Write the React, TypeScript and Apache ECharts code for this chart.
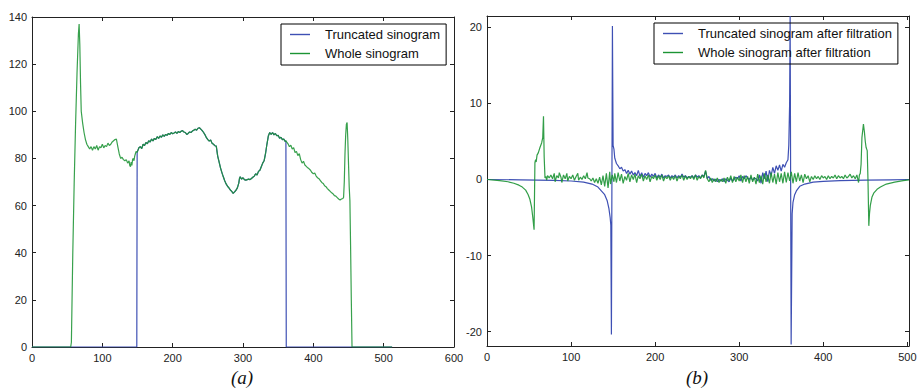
import React, { useEffect, useRef } from "react";
import * as echarts from "echarts";

// ---------- tick labels ----------
const leftXTicks = [0, 100, 200, 300, 400, 500, 600];
const leftYTicks = [0, 20, 40, 60, 80, 100, 120, 140];
const rightXTicks = [0, 100, 200, 300, 400, 500];
const rightYTicks = [-20, -10, 0, 10, 20];

// ---------- panel (a): sinograms ----------
const wholeLeftEdge: number[][] = [
  [0, 0], [55, 0], [56, 2], [58, 40], [60, 70], [62, 95], [64, 116], [66, 133], [67, 137], [68, 128],
  [69, 112], [70, 100], [72, 95], [74, 91], [76, 88], [78, 86], [80, 85], [82, 84], [84, 85], [86, 83.5],
  [88, 85], [90, 84], [92, 85.5], [94, 83.5], [96, 85], [98, 84.5], [100, 86], [102, 84.5], [104, 85.5],
  [106, 85], [108, 86.5], [110, 85.5], [112, 86], [114, 87], [116, 87.5], [118, 88], [120, 88.2], [122, 85],
  [124, 82], [126, 80], [128, 80.5], [130, 79.5], [132, 79], [134, 79.5], [136, 78], [138, 79], [139, 77],
  [140, 76.5], [141, 78.5], [142, 77], [143, 79.5], [144, 80], [145, 79], [146, 81], [147, 82], [148, 83],
  [149, 82.5],
];

const sharedCore: number[][] = [
  [150, 83], [152, 84.5], [154, 85], [156, 84.2], [158, 86], [160, 85.5], [162, 86.8], [164, 86.2],
  [166, 87.5], [168, 87], [170, 88.2], [172, 87.4], [174, 88.5], [176, 88], [178, 89.2], [180, 88.5],
  [182, 89.5], [184, 89], [186, 90], [188, 89.4], [190, 90.2], [192, 89.8], [194, 90.6], [196, 90.2],
  [198, 91], [200, 90.5], [202, 90.8], [204, 91.2], [206, 90.6], [208, 91.4], [210, 91], [212, 91.5],
  [214, 91.8], [216, 91.2], [218, 91], [220, 90.2], [222, 90.6], [224, 91.2], [226, 91], [228, 91.6],
  [230, 92], [232, 92.4], [234, 92], [236, 92.8], [238, 93], [240, 92.4], [242, 91.8], [244, 91],
  [246, 90], [248, 88.8], [250, 88], [252, 87.4], [254, 87.8], [256, 86.4], [258, 86], [260, 85.4],
  [262, 85.2], [264, 81], [266, 78.5], [268, 76], [270, 74], [272, 72.2], [274, 70.5], [276, 69.2],
  [278, 68.2], [280, 67.5], [282, 66.6], [284, 66], [286, 65.2], [288, 65.8], [290, 66.5], [292, 67.5],
  [294, 69.5], [295, 71.5], [296, 72.2], [298, 71.2], [300, 71.8], [302, 71], [304, 70.8], [306, 71],
  [308, 71.2], [310, 71], [312, 71.5], [314, 72], [316, 72.5], [318, 73.5], [320, 73], [322, 74.5],
  [324, 75], [326, 76.5], [328, 78], [330, 79], [332, 82], [334, 86], [336, 89.5], [338, 91], [340, 90.2],
  [342, 91], [344, 90], [346, 90.6], [348, 89.6], [350, 89.8], [352, 88.6], [354, 89], [356, 88],
  [358, 88.2], [360, 87.2], [361, 87.5],
];

const wholeRightEdge: number[][] = [
  [362, 87], [364, 86.2], [366, 85], [368, 85.6], [370, 84], [372, 84.6], [374, 82.5], [376, 83],
  [378, 81.2], [380, 82], [382, 79.5], [384, 78], [386, 78.8], [388, 77.2], [390, 76.6], [392, 76],
  [394, 75.6], [396, 75], [398, 74], [400, 73.5], [402, 73.8], [404, 72.5], [406, 71.8], [408, 71.4],
  [410, 70.6], [412, 69.8], [414, 69.4], [416, 68.4], [418, 68], [420, 67.2], [422, 66.6], [424, 66],
  [426, 65.4], [428, 65], [430, 64.2], [432, 64], [434, 63.4], [436, 62.8], [438, 62.4], [440, 62.8],
  [442, 63], [443, 63.5], [444, 70], [445, 82], [446, 90], [447, 94.5], [448, 95.2], [449, 88], [450, 78],
  [451, 68], [452, 62], [453, 42], [454, 20], [455, 0], [512, 0],
];

const truncLeftEdge: number[][] = [[0, 0], [149, 0], [149.5, 82.5]];
const truncRightEdge: number[][] = [[361.5, 0], [512, 0]];

// ---------- panel (b): filtered sinograms ----------
const truncFiltered: number[][] = [
  [0, 0], [40, -0.05], [80, -0.12], [100, -0.2], [115, -0.35], [125, -0.6], [132, -1], [136, -1.5],
  [140, -2], [143, -2.8], [145, -3.8], [146.5, -5], [147.3, -6], [148, -20.4], [149.2, 20.2], [150, 4.5],
  [151, 4], [152, 2.8], [154, 2.1], [156, 1.8], [158, 1.4], [160, 1.6], [162, 1.1], [164, 1.3], [166, 0.8],
  [168, 1.2], [170, 0.7], [172, 1.1], [174, 0.6], [176, 0.9], [178, 0.5], [180, 1.2], [182, 0.4],
  [184, 0.9], [186, 0.3], [188, 0.8], [190, 0.5], [192, 0.9], [194, 0.3], [196, 0.7], [198, 0.4],
  [200, 0.8], [202, 0.2], [204, 0.6], [206, 0.3], [208, 0.7], [210, 0.2], [212, 0.5], [214, 0.4],
  [216, 0.6], [218, 0.2], [220, 0.5], [222, 0.3], [224, 0.6], [226, 0.2], [228, 0.5], [230, 0.3],
  [232, 0.7], [234, 0.3], [236, 0.5], [238, 0.2], [240, 0.4], [242, 0.3], [244, 0.5], [246, 0.2],
  [248, 0.6], [250, 0.3], [252, 0.5], [254, 0.2], [256, 0.6], [258, 0.4], [260, 1.1], [261, 0.6],
  [262, 0.1], [264, 0.4], [266, -0.1], [268, 0.1], [270, -0.2], [272, 0.05], [274, -0.3], [276, 0],
  [278, -0.2], [280, 0.1], [282, -0.3], [284, 0.1], [286, -0.1], [288, -0.3], [290, 0.2], [292, -0.2],
  [294, 0], [296, 0.3], [298, 0.1], [300, 0.5], [302, -0.2], [304, 0.4], [306, 0.1], [308, 0.5],
  [310, 0.2], [312, 0], [314, 0.3], [316, -0.1], [318, 0.2], [320, 0.1], [322, -0.2], [324, 0.6],
  [326, -0.5], [328, 0.9], [330, 0.1], [332, 1.1], [334, -0.3], [336, 1.2], [338, 0.5], [340, 1.6],
  [342, 0.8], [344, 1.8], [346, 1.2], [348, 1.9], [350, 1.1], [352, 2.0], [354, 1.6], [356, 2.2],
  [358, 2.6], [359, 4.5], [360, 10], [360.6, 21.5], [361.8, -21.7], [363, -4.5], [364, -3], [366, -2],
  [368, -1.5], [372, -0.9], [378, -0.6], [388, -0.35], [400, -0.25], [420, -0.15], [450, -0.08],
  [480, -0.04], [502, 0],
];

const wholeFiltered: number[][] = [
  [0, 0], [15, -0.15], [25, -0.3], [32, -0.5], [38, -0.75], [42, -1], [46, -1.4], [49, -2], [51, -2.6],
  [53, -3.6], [54.5, -5], [56, -6.6], [57, 2.2], [57.8, 2.6], [58.5, 2.3], [59.5, 3.2], [61, 3.5],
  [63, 4.2], [65, 4.8], [66.3, 5.5], [67.2, 8.3], [68, 3], [69, 0.2], [70, 0.4], [71, -0.1], [72, 0.5],
  [74, 0.2], [76, 0.6], [78, 0.1], [80, 0.8], [81, -0.3], [83, 0.5], [85, 0.2], [86, 0.9], [88, 0.3],
  [89, -0.4], [91, 0.6], [93, 0.1], [95, 0.8], [96, -0.2], [98, 0.4], [100, 0.1], [102, 0.6], [104, -0.1],
  [106, 0.4], [108, 0.8], [109, -0.1], [111, 0.3], [113, 0], [115, 0.5], [117, 0.1], [119, 0.9],
  [120, 0.2], [122, 0.1], [124, -0.2], [126, 0.2], [128, -0.4], [130, 0.1], [132, -0.5], [134, 0.3],
  [136, -0.7], [138, 0.5], [140, -0.9], [142, 0.8], [144, -1.1], [146, 1.0], [147, -0.6], [149, 0.6],
  [151, -0.3], [152, 0.8], [154, -0.4], [156, 0.9], [158, -0.2], [160, 0.7], [162, -0.5], [164, 0.4],
  [166, -0.1], [168, 0.8], [170, -0.3], [172, 0.6], [174, 0], [176, 0.7], [178, -0.4], [180, 0.5],
  [182, 0.1], [184, 0.7], [186, -0.2], [188, 0.5], [190, 0], [192, 0.6], [194, -0.3], [196, 0.4],
  [198, 0.1], [200, 0.6], [202, -0.1], [204, 0.5], [206, 0], [208, 0.6], [210, -0.2], [212, 0.4],
  [214, 0.1], [216, 0.5], [218, -0.1], [220, 0.4], [222, 0], [224, 0.5], [226, -0.2], [228, 0.4],
  [230, 0.1], [232, 0.6], [234, -0.1], [236, 0.5], [238, 0], [240, 0.4], [242, 0.1], [244, 0.5],
  [246, 0], [248, 0.6], [250, -0.1], [252, 0.4], [254, 0.1], [256, 0.6], [258, 0.2], [260, 1.2],
  [262, 0.1], [264, -0.3], [266, 0.2], [268, -0.4], [270, 0.1], [272, -0.3], [274, 0.2], [276, -0.4],
  [278, 0], [280, -0.3], [282, 0.2], [284, -0.5], [286, 0.3], [288, -0.2], [290, 0.5], [292, -0.4],
  [294, 0.4], [296, -0.3], [298, 0.3], [300, -0.2], [302, 0.6], [304, -0.4], [306, 0.5], [308, -0.3],
  [310, 0.4], [312, -0.5], [314, 0.6], [316, -0.3], [318, 0.3], [320, -0.6], [322, 0.7], [324, -0.4],
  [326, 0.5], [328, -0.6], [330, 0.8], [332, -0.3], [334, 0.6], [336, -0.5], [338, 0.9], [340, -0.4],
  [342, 0.7], [344, -0.6], [346, 0.9], [348, -0.3], [350, 0.8], [352, -0.5], [354, 1.0], [356, -0.4],
  [358, 0.9], [360, -0.2], [362, 1.0], [364, -0.5], [366, 0.8], [368, -0.3], [370, 0.9], [372, -0.2],
  [374, 0.6], [376, -0.4], [378, 0.7], [380, 0.1], [382, 0.5], [384, -0.3], [386, 0.4], [388, 0],
  [390, 0.5], [392, 0.1], [394, 0.4], [396, 0], [398, 0.5], [400, 0.2], [402, 0.4], [404, 0], [406, 0.5],
  [408, 0.1], [410, 0.4], [412, 0.2], [414, 0.6], [416, 0.1], [418, 0.5], [420, 0.2], [422, 0.4],
  [424, 0.1], [426, 0.6], [428, 0.2], [430, 0.4], [432, 0.7], [434, 0.2], [436, 0.5], [438, 0.1],
  [440, 0.6], [442, -0.4], [443, 0.6], [444, 0.8], [445, 2], [446, 5.5], [447.8, 7.3], [449, 6.2],
  [450, 5], [451, 4.2], [452.3, 3.8], [453.2, 0], [454.2, -6.1], [455, -4.5], [456, -3.4], [458, -2.3],
  [460, -1.8], [464, -1.3], [468, -1.0], [475, -0.6], [485, -0.35], [495, -0.15], [502, -0.05],
];

const BLUE = "#3e50b4";
const GREEN = "#1c9434";
const FONT = "'Liberation Sans', Arial, sans-serif";
const AXIS_COLOR = "#222";

function xAxes(gridIndex: number, min: number, max: number, ticks: number[]) {
  const line = { show: true, onZero: false, lineStyle: { color: AXIS_COLOR, width: 1 } };
  const tick = { show: true, inside: true, length: 4, customValues: ticks, lineStyle: { color: AXIS_COLOR } };
  return [
    {
      type: "value", gridIndex, position: "bottom", min, max,
      splitLine: { show: false }, axisLine: line, axisTick: tick,
      axisLabel: { customValues: ticks, color: AXIS_COLOR, fontSize: 11, fontFamily: FONT, margin: 5 },
    },
    {
      type: "value", gridIndex, position: "top", min, max,
      splitLine: { show: false }, axisLine: line, axisTick: tick, axisLabel: { show: false },
    },
  ];
}

function yAxes(gridIndex: number, min: number, max: number, ticks: number[]) {
  const line = { show: true, onZero: false, lineStyle: { color: AXIS_COLOR, width: 1 } };
  const tick = { show: true, inside: true, length: 4, customValues: ticks, lineStyle: { color: AXIS_COLOR } };
  return [
    {
      type: "value", gridIndex, position: "left", min, max,
      splitLine: { show: false }, axisLine: line, axisTick: tick,
      axisLabel: { customValues: ticks, color: AXIS_COLOR, fontSize: 11, fontFamily: FONT, margin: 5 },
    },
    {
      type: "value", gridIndex, position: "right", min, max,
      splitLine: { show: false }, axisLine: line, axisTick: tick, axisLabel: { show: false },
    },
  ];
}

function lineSeries(name: string, data: number[][], color: string, axisIdx: number, opacity = 1) {
  return {
    name, type: "line", data, xAxisIndex: axisIdx, yAxisIndex: axisIdx,
    symbol: "none", showSymbol: false, smooth: false,
    lineStyle: { color, width: 1.2, opacity }, itemStyle: { color },
  };
}

function legendOf(names: string[], left: number, top: number) {
  return {
    data: names, orient: "vertical", left, top,
    borderColor: "#000", borderWidth: 1, padding: [3, 6, 4, 9],
    icon: "rect", itemWidth: 20, itemHeight: 1.4, itemGap: 4,
    textStyle: { fontSize: 13, fontFamily: FONT, color: "#111", padding: [0, 0, 0, 10], lineHeight: 15 },
    selectedMode: false,
  };
}

export default function App() {
  const ref = useRef<HTMLDivElement>(null);
  useEffect(() => {
    document.body.style.margin = "0";
    if (!ref.current) return;
    const chart = echarts.init(ref.current, undefined, { renderer: "svg" });
    const truncated = [...truncLeftEdge, ...sharedCore, ...truncRightEdge];
    const whole = [...wholeLeftEdge, ...sharedCore, ...wholeRightEdge];
    chart.setOption({
      animation: false,
      backgroundColor: "#fff",
      grid: [
        { left: 32, top: 17, width: 422, height: 330 },
        { left: 487, top: 16, width: 422, height: 330 },
      ],
      xAxis: [...xAxes(0, 0, 600, leftXTicks), ...xAxes(1, 0, 502, rightXTicks)],
      yAxis: [...yAxes(0, 0, 140, leftYTicks), ...yAxes(1, -21.9, 21.5, rightYTicks)],
      legend: [
        legendOf(["Truncated sinogram", "Whole sinogram"], 281, 24),
        legendOf(["Truncated sinogram after filtration", "Whole sinogram after filtration"], 654, 23),
      ],
      series: [
        lineSeries("Truncated sinogram", truncated, BLUE, 0),
        lineSeries("Whole sinogram", whole, GREEN, 0, 0.88),
        lineSeries("Truncated sinogram after filtration", truncFiltered, BLUE, 2),
        lineSeries("Whole sinogram after filtration", wholeFiltered, GREEN, 2, 0.9),
      ],
      graphic: [
        {
          type: "text", x: 242, y: 377,
          style: { text: "(a)", align: "center", verticalAlign: "middle", font: "italic 19px 'Liberation Serif', 'Times New Roman', serif", fill: "#111" },
        },
        {
          type: "text", x: 697, y: 377,
          style: { text: "(b)", align: "center", verticalAlign: "middle", font: "italic 19px 'Liberation Serif', 'Times New Roman', serif", fill: "#111" },
        },
      ],
    });
    return () => chart.dispose();
  }, []);
  return <div ref={ref} style={{ width: 920, height: 389 }} />;
}
